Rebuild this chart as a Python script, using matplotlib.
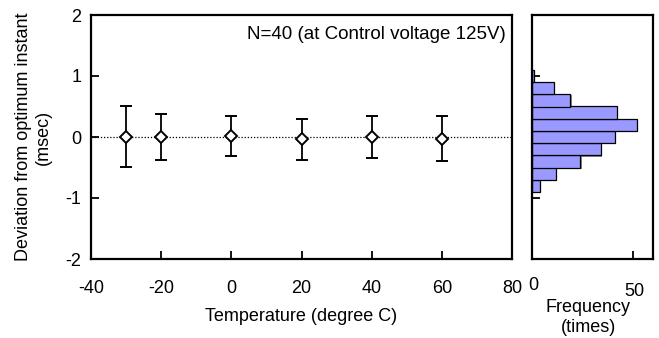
import numpy as np
import matplotlib.pyplot as plt
import matplotlib.transforms as mtransforms

plt.rcParams['font.family'] = ['Liberation Sans', 'DejaVu Sans']
plt.rcParams['font.size'] = 13
plt.rcParams['axes.unicode_minus'] = False

# temperature test points
temps = [-30, -20, 0, 20, 40, 60]
means = [0.005, 0.0, 0.02, -0.035, 0.005, -0.025]
sds = [0.50, 0.375, 0.33, 0.335, 0.345, 0.375]

# histogram of deviations (bins 0.2 msec wide)
bin_lo = [-0.9, -0.7, -0.5, -0.3, -0.1, 0.1, 0.3, 0.5, 0.7, 0.9]
counts = [4, 12, 24, 34, 41, 52, 42, 19, 11, 1]

fs = 13
fig = plt.figure(figsize=(6.59, 3.38), dpi=100)
ax = fig.add_axes([91/659, 79/338, 421/659, 244/338])
axh = fig.add_axes([532/659, 79/338, 121/659, 244/338])

ax.axhline(0, color='black', lw=0.9, ls=(0, (1, 1.5)), zorder=1)
ax.errorbar(temps, means, yerr=sds, fmt='D', ms=6.2, mfc='white', mec='black',
            mew=1.4, ecolor='black', elinewidth=1.3, capsize=4, capthick=1.3, zorder=3)

ax.set_xlim(-40, 80)
ax.set_ylim(-2, 2)
ax.set_xticks([-40, -20, 0, 20, 40, 60, 80])
ax.set_yticks([-2, -1, 0, 1, 2])
ax.tick_params(direction='in', length=6, width=1.3, pad=7, labelsize=fs)
ax.tick_params(axis='x', pad=15)
for s in ax.spines.values():
    s.set_linewidth(1.6)
ax.set_xlabel('Temperature (degree C)', fontsize=fs, labelpad=8)
ax.set_ylabel('Deviation from optimum instant\n(msec)', fontsize=fs, labelpad=10)
ax.text(0.985, 0.92, 'N=40 (at Control voltage 125V)', transform=ax.transAxes,
        ha='right', va='center', fontsize=13.5)

# histogram with slight shadow
axh.set_axisbelow(True)
shadow = mtransforms.offset_copy(axh.transData, fig=fig, x=1.2, y=-1.2, units='dots')
axh.barh(bin_lo, counts, height=0.2, align='edge', color='#888888', lw=0,
         transform=shadow, zorder=1)
axh.barh(bin_lo, counts, height=0.2, align='edge', color='#9999ff',
         edgecolor='black', lw=0.9, zorder=2)
axh.set_xlim(0, 60)
axh.set_ylim(-2, 2)
axh.set_yticks([-2, -1, 0, 1, 2])
axh.set_yticklabels([])
axh.set_xticks([0, 50])
axh.set_xticklabels([])
axh.tick_params(direction='in', length=6, width=1.3)
for s in axh.spines.values():
    s.set_linewidth(1.6)
xt = mtransforms.blended_transform_factory(axh.transData, fig.transFigure)
axh.text(0.5, 1 - 285/338, '0', transform=xt, ha='center', va='center', fontsize=fs)
axh.text(51, 1 - 292/338, '50', transform=xt, ha='center', va='center', fontsize=fs)
fig.text(588/659, 1 - 307/338, 'Frequency', ha='center', va='center', fontsize=fs)
fig.text(588/659, 1 - 327/338, '(times)', ha='center', va='center', fontsize=fs)

fig.savefig('out.png', dpi=100)
